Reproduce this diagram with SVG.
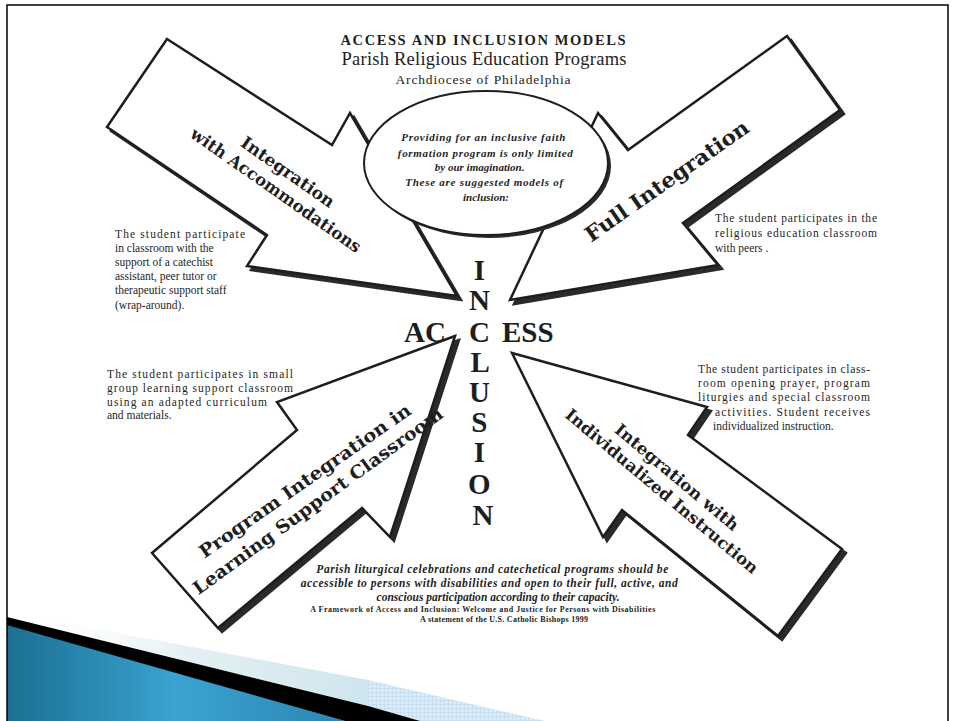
<svg xmlns="http://www.w3.org/2000/svg" width="956" height="721" viewBox="0 0 956 721">
<defs>
<style>
.t{font-family:"Liberation Serif",serif;fill:#1e1e1e}
.bi{font-family:"Liberation Serif",serif;font-style:italic;font-weight:bold;fill:#1e1e1e}
.lbl{font-family:"DejaVu Serif",serif;font-weight:bold;fill:#1e1e1e}
.big{font-family:"Liberation Serif",serif;font-weight:bold;font-size:29px;fill:#1e1e1e}
.side{font-size:11.5px}
.arrow{fill:#fff;stroke:#1e1e1e;stroke-width:2.5;stroke-linejoin:miter}
.shadow{fill:#2a2a2a;stroke:#2a2a2a;stroke-width:2.5}
</style>
<linearGradient id="blue" x1="0" y1="0" x2="1" y2="0">
<stop offset="0" stop-color="#1b6f92"/>
<stop offset="0.5" stop-color="#3aa3d2"/>
<stop offset="1" stop-color="#2b86b4"/>
</linearGradient>
<linearGradient id="glare" x1="0" y1="0" x2="1" y2="0">
<stop offset="0" stop-color="#ffffff" stop-opacity="0"/>
<stop offset="0.5" stop-color="#e4f0f2"/>
<stop offset="1" stop-color="#cfe6ee"/>
</linearGradient>
<pattern id="grid" width="4" height="4" patternUnits="userSpaceOnUse">
<rect width="4" height="4" fill="#dcebf6"/>
<path d="M0 0H4M0 0V4" stroke="#b9d5ec" stroke-width="1"/>
</pattern>
</defs>
<rect width="956" height="721" fill="#fff"/>

<g id="decoration">
<polygon points="7,612 368,680 368,706 7,617" fill="url(#glare)"/>
<polygon points="368,680 545,721 368,721" fill="url(#grid)"/>
<polygon points="7,624 345,721 7,721" fill="url(#blue)"/>
<polygon points="7,617 368,706 420,721 345,721 7,625" fill="#000"/>
</g>
<rect x="7" y="5" width="941" height="730" fill="none" stroke="#000" stroke-width="1.5"/>

<g id="header">
<text class="t" x="483" y="45" text-anchor="middle" font-weight="bold" font-size="14.5" textLength="285">ACCESS AND INCLUSION MODELS</text>
<text class="t" x="484" y="65" text-anchor="middle" font-size="18.5" textLength="285">Parish Religious Education Programs</text>
<text class="t" x="483" y="84" text-anchor="middle" font-size="13.5" textLength="175">Archdiocese of Philadelphia</text>
</g>

<g id="arrow-accommodations">
<polygon class="shadow" transform="translate(4,4)" points="167,39 332,145 350,113 457,296 247,266 267,235 107,127"/>
<polygon class="arrow" points="167,39 332,145 350,113 457,296 247,266 267,235 107,127"/>
<g transform="translate(288,172) rotate(35)"><text class="lbl" x="0" y="6" font-size="17" text-anchor="middle" textLength="110" lengthAdjust="spacingAndGlyphs">Integration</text></g>
<g transform="translate(276,190) rotate(35)"><text class="lbl" x="0" y="6" font-size="17" text-anchor="middle" textLength="204" lengthAdjust="spacingAndGlyphs">with Accommodations</text></g>
</g>

<g id="arrow-full">
<polygon class="shadow" transform="translate(4,4)" points="787,36 840,110 683,223 718,265 510,300 598,113 628,150"/>
<polygon class="arrow" points="787,36 840,110 683,223 718,265 510,300 598,113 628,150"/>
<g transform="translate(667,181) rotate(-35)"><text class="lbl" x="0" y="7" font-size="21" text-anchor="middle" textLength="195" lengthAdjust="spacingAndGlyphs">Full Integration</text></g>
</g>

<g id="arrow-learning-support">
<polygon class="shadow" transform="translate(4,4)" points="455,336 277,402 297,430 152,553 218,628 362,508 390,537"/>
<polygon class="arrow" points="455,336 277,402 297,430 152,553 218,628 362,508 390,537"/>
<g transform="translate(305,481) rotate(-35)"><text class="lbl" x="0" y="6" font-size="18" text-anchor="middle" textLength="254" lengthAdjust="spacingAndGlyphs">Program Integration in</text></g>
<g transform="translate(318,501) rotate(-36)"><text class="lbl" x="0" y="6" font-size="18" text-anchor="middle" textLength="304" lengthAdjust="spacingAndGlyphs">Learning Support Classroom</text></g>
</g>

<g id="arrow-individualized">
<polygon class="shadow" transform="translate(4,4)" points="512,353 707,407 688,435 842,549 778,636 622,510 603,537"/>
<polygon class="arrow" points="512,353 707,407 688,435 842,549 778,636 622,510 603,537"/>
<g transform="translate(677,477) rotate(40)"><text class="lbl" x="0" y="6" font-size="16.5" text-anchor="middle" textLength="156" lengthAdjust="spacingAndGlyphs">Integration with</text></g>
<g transform="translate(662,491) rotate(40)"><text class="lbl" x="0" y="6" font-size="16.5" text-anchor="middle" textLength="246" lengthAdjust="spacingAndGlyphs">Individualized Instruction</text></g>
</g>

<g id="ellipse-note">
<ellipse cx="489" cy="166" rx="122" ry="72" fill="#2a2a2a"/>
<ellipse cx="486" cy="163" rx="122" ry="72" fill="#fff" stroke="#1e1e1e" stroke-width="2"/>
<text class="bi" font-size="11" text-anchor="middle">
<tspan x="485" y="141" textLength="164">Providing for an inclusive faith</tspan>
<tspan x="487" y="157" textLength="175">formation program is only limited</tspan>
<tspan x="481" y="171">by our imagination.</tspan>
<tspan x="486" y="186" textLength="158">These are suggested models of</tspan>
<tspan x="486" y="201">inclusion:</tspan>
</text>
</g>

<g id="center-words">
<text class="big" text-anchor="middle">
<tspan x="483" y="280">I</tspan>
<tspan x="483" y="310">N</tspan>
<tspan x="483" y="342">C</tspan>
<tspan x="483" y="372">L</tspan>
<tspan x="483" y="402">U</tspan>
<tspan x="483" y="432">S</tspan>
<tspan x="483" y="462">I</tspan>
<tspan x="483" y="494">O</tspan>
<tspan x="483" y="525">N</tspan>
</text>
<text class="big" x="446" y="342" text-anchor="end">AC</text>
<text class="big" x="502" y="342">ESS</text>
</g>

<g id="text-accommodations" class="t side">
<text x="115" y="238" textLength="130">The student participate</text>
<text x="115" y="252">in classroom with the</text>
<text x="115" y="266">support of a catechist</text>
<text x="115" y="280">assistant, peer tutor or</text>
<text x="115" y="294">therapeutic support staff</text>
<text x="115" y="309">(wrap-around).</text>
</g>

<g id="text-full" class="t side">
<text x="715" y="222" textLength="162">The student participates in the</text>
<text x="715" y="237" textLength="162">religious education classroom</text>
<text x="715" y="252">with peers .</text>
</g>

<g id="text-learning-support" class="t side">
<text x="107" y="378" textLength="186">The student participates in small</text>
<text x="107" y="392" textLength="186">group learning support classroom</text>
<text x="107" y="406" textLength="160">using an adapted curriculum</text>
<text x="107" y="419">and materials.</text>
</g>

<g id="text-individualized" class="t side">
<text x="698" y="373" textLength="172">The student participates in class-</text>
<text x="698" y="387" textLength="172">room opening prayer, program</text>
<text x="698" y="401" textLength="172">liturgies and special classroom</text>
<text x="715" y="416" textLength="155">activities. Student receives</text>
<text x="713" y="430">individualized instruction.</text>
</g>

<g id="quote">
<text class="bi" font-size="11.5" text-anchor="middle">
<tspan x="494" y="573" textLength="352">Parish liturgical celebrations and catechetical programs should be</tspan>
<tspan x="491" y="587" textLength="377">accessible to persons with disabilities and open to their full, active, and</tspan>
<tspan x="498" y="601" textLength="243">conscious participation according to their capacity.</tspan>
</text>
<text class="t" font-size="8" font-weight="bold" text-anchor="middle">
<tspan x="484" y="612" textLength="345">A Framework of Access and Inclusion: Welcome and Justice for Persons with Disabilities</tspan>
<tspan x="504" y="622" textLength="168">A statement of the U.S. Catholic Bishops 1999</tspan>
</text>
</g>
</svg>
